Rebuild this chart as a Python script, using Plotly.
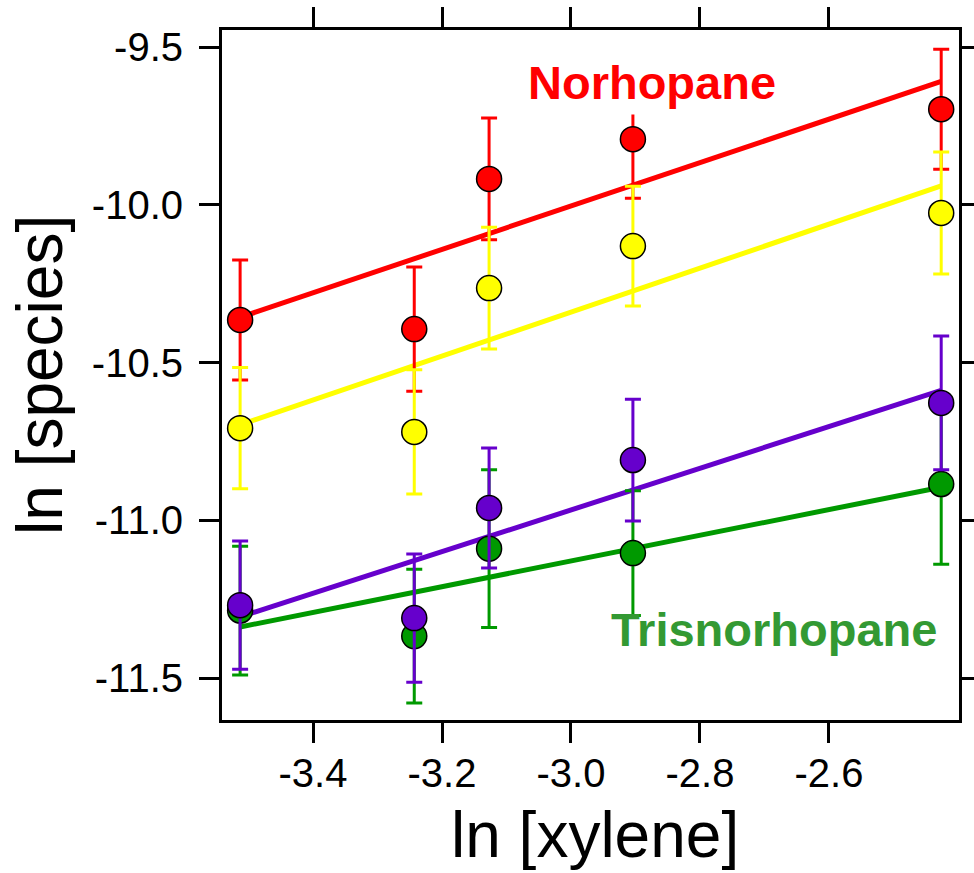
import numpy as np
import plotly.graph_objects as go

# ln of xylene concentration for each sample
ln_xylene = [-3.513, -3.243, -3.127, -2.904, -2.426]

# ln of species concentrations with their uncertainties
norhopane = [-10.365, -10.394, -9.918, -9.792, -9.697]
norhopane_err = [0.19, 0.197, 0.193, 0.187, 0.19]

yellow_species = [-10.708, -10.720, -10.264, -10.131, -10.026]
yellow_err = [0.192, 0.197, 0.193, 0.19, 0.193]

purple_species = [-11.269, -11.310, -10.961, -10.809, -10.628]
purple_err = [0.203, 0.203, 0.19, 0.193, 0.212]

trisnorhopane = [-11.286, -11.367, -11.090, -11.104, -10.885]
trisnorhopane_err = [0.204, 0.212, 0.25, 0.198, 0.254]

x_ticks = [-3.4, -3.2, -3.0, -2.8, -2.6]
x_ticktext = ["-3.4", "-3.2", "-3.0", "-2.8", "-2.6"]
y_ticks = [-9.5, -10.0, -10.5, -11.0, -11.5]
y_ticktext = ["-9.5", "-10.0", "-10.5", "-11.0", "-11.5"]

FONT = "Liberation Sans, Arial, Helvetica, sans-serif"

series = [
    (norhopane, norhopane_err, "#FF0000"),
    (yellow_species, yellow_err, "#FFFF00"),
    (trisnorhopane, trisnorhopane_err, "#009900"),
    (purple_species, purple_err, "#6600CC"),
]

fig = go.Figure()

# least-squares fit lines, drawn beneath the points
xs = np.array(ln_xylene)
x_ends = np.array([xs.min(), xs.max()])
for ys, _, color in series:
    slope, intercept = np.polyfit(xs, np.array(ys), 1)
    fig.add_trace(go.Scatter(
        x=x_ends, y=slope * x_ends + intercept, mode="lines",
        line=dict(color=color, width=5), showlegend=False, hoverinfo="skip",
    ))

# measured points with error bars
for ys, err, color in series:
    fig.add_trace(go.Scatter(
        x=ln_xylene, y=ys, mode="markers",
        marker=dict(size=25, color=color, line=dict(color="black", width=1.5)),
        error_y=dict(type="data", array=err, visible=True, color=color,
                     thickness=3, width=8),
        showlegend=False,
    ))

axis_common = dict(
    showline=True, linecolor="black", linewidth=3, mirror="ticks",
    ticks="outside", ticklen=20, tickwidth=3, tickcolor="black",
    showgrid=False, zeroline=False, automargin=False,
    tickfont=dict(family=FONT, size=40, color="black"),
)

fig.update_xaxes(range=[-3.5411, -2.3984], tickvals=x_ticks, ticktext=x_ticktext,
                 ticklabelstandoff=-4, **axis_common)
fig.update_yaxes(range=[-11.633, -9.446], tickvals=y_ticks, ticktext=y_ticktext,
                 ticklabelstandoff=8, **axis_common)

fig.add_annotation(x=-2.874, y=-9.612, xref="x", yref="y", text="<b>Norhopane</b>",
                   showarrow=False, font=dict(family=FONT, size=47, color="#FF0000"),
                   bgcolor="white", borderpad=5, xanchor="center", yanchor="middle")
fig.add_annotation(x=-2.6845, y=-11.345, xref="x", yref="y", text="<b>Trisnorhopane</b>",
                   showarrow=False, font=dict(family=FONT, size=47, color="#339933"),
                   xanchor="center", yanchor="middle")

# axis titles
fig.add_annotation(x=0.506, y=-0.166, xref="paper", yref="paper", text="ln [xylene]",
                   showarrow=False, font=dict(family=FONT, size=64, color="black"),
                   xanchor="center", yanchor="middle", borderpad=0)
fig.add_annotation(x=-0.247, y=0.5, xref="paper", yref="paper", text="ln [species]",
                   showarrow=False, textangle=-90,
                   font=dict(family=FONT, size=64, color="black"),
                   xanchor="center", yanchor="middle")

fig.update_layout(
    template="none",
    width=974, height=873,
    margin=dict(l=222, r=15, t=30, b=153),
    plot_bgcolor="white", paper_bgcolor="white",
)

fig.write_html("out.html")
